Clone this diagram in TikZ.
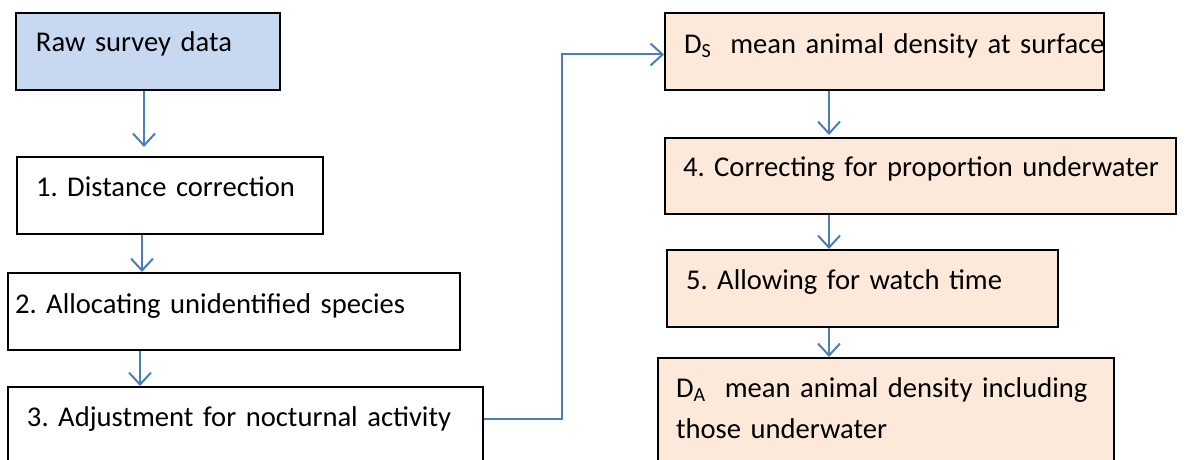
\documentclass[tikz,border=0pt]{standalone}
\usepackage{fontspec}
\setmainfont{Carlito}
\usetikzlibrary{arrows.meta}
\definecolor{rawblue}{HTML}{C6D9F1}
\definecolor{peach}{HTML}{FDE9D9}
\definecolor{arrowblue}{HTML}{4A7EBB}
\newcommand\boxfont{\fontsize{28.6pt}{41pt}\selectfont\frenchspacing}
\newcommand\boxline[2]{\hspace*{#1pt}\mbox{#2}}
\tikzset{
  box/.style={draw=black, line width=2pt, anchor=north west, inner sep=0pt, align=left, font=\boxfont},
  flow/.style={draw=arrowblue, line width=2pt, -{Straight Barb[length=12pt,width=22pt,line width=2pt]}},
}
\begin{document}
\begin{tikzpicture}[x=1pt,y=-1pt]
\clip (0,0) rectangle (1188,460);
\fill[white] (0,0) rectangle (1188,460);
\node[box, fill=rawblue, text width=264pt, text height=39pt, text depth=38pt] (raw) at (15,12) {\boxline{20}{Raw survey data}};
\node[box, fill=white, text width=306pt, text height=39pt, text depth=38pt] (b1) at (16,156) {\boxline{19}{1. Distance correction}};
\node[box, fill=white, text width=452pt, text height=40pt, text depth=37pt] (b2) at (7,272) {\boxline{7}{2. Allocating unidentified species}};
\node[box, fill=white, text width=475pt, text height=39pt, text depth=43pt] (b3) at (7,386) {\boxline{19}{3. Adjustment for nocturnal activity}};
\node[box, fill=peach, text width=439pt, text height=40pt, text depth=37pt] (ds) at (664,12) {\boxline{19}{D\textsubscript{S}\ \ mean animal density at surface}};
\node[box, fill=peach, text width=511pt, text height=38pt, text depth=38pt] (b4) at (664,137) {\boxline{18}{4. Correcting for proportion underwater}};
\node[box, fill=peach, text width=391pt, text height=39pt, text depth=38pt] (b5) at (666,249) {\boxline{19}{5. Allowing for watch time}};
\node[box, fill=peach, text width=456pt, text height=39pt, text depth=80pt] (da) at (657,357) {\boxline{18}{D\textsubscript{A}\ \ mean animal density including}\\\boxline{18}{those underwater}};
\draw[flow, shorten >=9pt] ([xshift=129pt]raw.south west) -- ([xshift=128pt]b1.north west);
\draw[flow] ([xshift=126pt]b1.south west) -- ([xshift=135pt]b2.north west);
\draw[flow] ([xshift=133pt]b2.south west) -- ([xshift=133pt]b3.north west);
\draw[flow] ([yshift=-33pt]b3.north east) -- ++(78,0) |- ([yshift=-3pt]ds.west);
\draw[flow, shorten >=2pt] ([xshift=165pt]ds.south west) -- ([xshift=165pt]b4.north west);
\draw[flow] ([xshift=165pt]b4.south west) -- ([xshift=163pt]b5.north west);
\draw[flow] ([xshift=163pt]b5.south west) -- ([xshift=172pt]da.north west);
\end{tikzpicture}
\end{document}
